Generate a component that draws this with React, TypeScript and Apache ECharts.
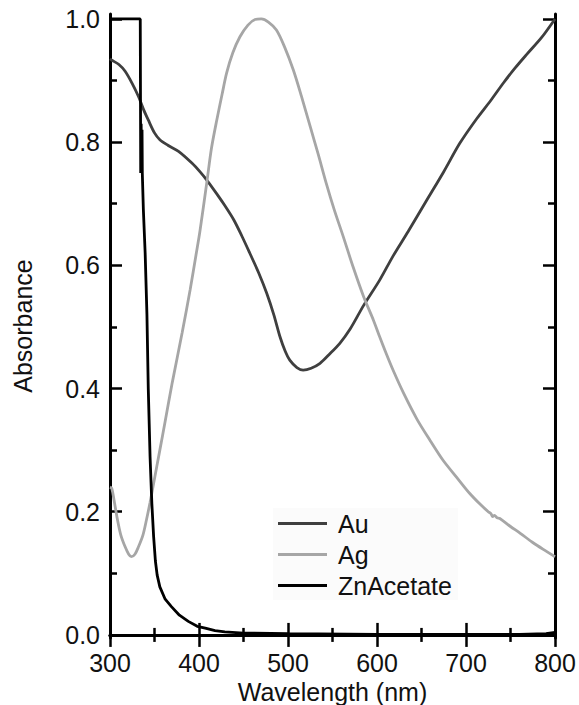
import React, { useEffect, useRef } from "react";
import * as echarts from "echarts";

const seriesNames = ["Au", "Ag", "ZnAcetate"];

const auWl = [300, 302, 310, 317, 325, 332, 338, 343, 350, 356, 365, 377, 392, 401, 410, 420, 429, 439, 448, 457, 467, 476, 484, 491, 497, 502, 510, 517, 526, 536, 546, 558, 570, 585, 603, 618, 635, 656, 675, 693, 712, 728, 742, 755, 768, 785, 800];
const auAbs = [0.935, 0.933, 0.926, 0.915, 0.895, 0.874, 0.852, 0.836, 0.815, 0.804, 0.795, 0.785, 0.766, 0.752, 0.736, 0.716, 0.697, 0.674, 0.648, 0.62, 0.588, 0.555, 0.52, 0.484, 0.46, 0.446, 0.434, 0.43, 0.433, 0.441, 0.455, 0.473, 0.497, 0.535, 0.576, 0.615, 0.655, 0.706, 0.752, 0.798, 0.838, 0.868, 0.896, 0.92, 0.942, 0.97, 1.0];

const agWl = [300, 302, 305, 308, 312, 317, 321, 324, 328, 332, 337, 341, 345, 349, 356, 362, 370, 381, 390, 397, 401, 409, 414, 420, 426, 431, 438, 446, 455, 463, 470, 478, 487, 496, 506, 515, 525, 534, 543, 552, 562, 573, 585, 596, 603, 610, 618, 630, 645, 660, 674, 690, 704, 716, 725, 728, 730, 732, 735, 738, 750, 761, 775, 790, 800];
const agAbs = [0.24, 0.238, 0.215, 0.19, 0.163, 0.143, 0.131, 0.127, 0.131, 0.143, 0.162, 0.187, 0.215, 0.246, 0.3, 0.347, 0.41, 0.49, 0.56, 0.62, 0.655, 0.737, 0.79, 0.836, 0.878, 0.912, 0.945, 0.971, 0.99, 0.999, 1.0, 0.995, 0.982, 0.955, 0.917, 0.875, 0.825, 0.78, 0.733, 0.69, 0.647, 0.598, 0.549, 0.511, 0.484, 0.458, 0.43, 0.392, 0.35, 0.315, 0.284, 0.255, 0.23, 0.212, 0.2, 0.197, 0.192, 0.194, 0.19, 0.189, 0.176, 0.165, 0.15, 0.136, 0.127];

const znWl = [300, 334, 334.5, 335, 335.5, 336, 336.3, 337.5, 339.5, 341.5, 343, 345, 347, 349, 351, 353, 356, 362, 369, 378, 388, 398, 407, 418, 429, 450, 500, 600, 700, 760, 790, 800];
const znAbs = [1.0, 1.0, 0.75, 0.83, 0.76, 0.82, 0.75, 0.69, 0.62, 0.52, 0.4, 0.29, 0.214, 0.16, 0.12, 0.097, 0.078, 0.058, 0.046, 0.032, 0.022, 0.014, 0.011, 0.007, 0.005, 0.003, 0.002, 0.001, 0.001, 0.001, 0.002, 0.004];

const yMajorTicks = [0, 0.2, 0.4, 0.6, 0.8, 1.0];
const yMinorTicks = [0.1, 0.3, 0.5, 0.7, 0.9];

const FONT = "'Liberation Sans', Arial, sans-serif";
const INK = "#111";

const zip = (xs: number[], ys: number[]) => xs.map((x, i) => [x, ys[i]]);

export default function App() {
  const ref = useRef<HTMLDivElement>(null);
  useEffect(() => {
    if (!ref.current) return;
    const chart = echarts.init(ref.current, null, { renderer: "svg" });
    const lineW = 2.8;
    const tickStyle = { color: "#000", width: 2.5 };
    const yRange = { min: -0.005, max: 1.008 };
    const baseX = {
      type: "value",
      min: 300,
      max: 800,
      interval: 100,
      splitLine: { show: false },
      minorSplitLine: { show: false },
      axisLine: { show: true, lineStyle: { color: "#000", width: 3 } },
      axisTick: { show: true, inside: true, length: 12, lineStyle: tickStyle },
      minorTick: { show: true, splitNumber: 2, length: 7, lineStyle: tickStyle },
    };
    const yAxisBase = (position: string, major: boolean, showLine: boolean, labels: boolean) => ({
      type: "value",
      position,
      ...yRange,
      splitLine: { show: false },
      axisLine: { show: showLine, onZero: false, lineStyle: { color: "#000", width: 3 } },
      axisTick: {
        show: true,
        inside: true,
        length: major ? 12 : 7,
        lineStyle: tickStyle,
        customValues: major ? yMajorTicks : yMinorTicks,
      },
      axisLabel: labels
        ? {
            show: true,
            customValues: yMajorTicks,
            formatter: (v: number) => v.toFixed(1),
            fontSize: 25,
            fontFamily: FONT,
            color: INK,
            margin: 10,
          }
        : { show: false },
    });
    chart.setOption({
      animation: false,
      backgroundColor: "#fff",
      grid: { left: 110, right: 24, top: 14, bottom: 67, containLabel: false, outerBoundsMode: "none" },
      legend: {
        data: seriesNames,
        orient: "vertical",
        left: 273,
        top: 508,
        padding: [3, 6, 2, 5],
        itemGap: 6,
        itemWidth: 49,
        itemHeight: 3,
        icon: "rect",
        backgroundColor: "#fbfbfb",
        textStyle: { fontSize: 25, lineHeight: 25, color: INK, fontFamily: FONT, padding: [0, 0, 0, 6] },
      },
      xAxis: [
        {
          ...baseX,
          position: "bottom",
          axisLabel: { fontSize: 25, fontFamily: FONT, color: INK, margin: 12 },
          name: "Wavelength (nm)",
          nameLocation: "middle",
          nameGap: 37,
          nameTextStyle: { fontSize: 25, fontFamily: FONT, color: INK },
        },
        { ...baseX, position: "top", axisLabel: { show: false } },
      ],
      yAxis: [
        {
          ...yAxisBase("left", true, true, true),
          name: "Absorbance",
          nameLocation: "middle",
          nameGap: 75,
          nameRotate: 90,
          nameTextStyle: { fontSize: 25, fontFamily: FONT, color: INK },
        },
        yAxisBase("left", false, false, false),
        yAxisBase("right", true, true, false),
        yAxisBase("right", false, false, false),
      ],
      series: [
        {
          name: "Au",
          type: "line",
          data: zip(auWl, auAbs),
          showSymbol: false,
          symbol: "none",
          smooth: 0.3,
          color: "#3f3f3f",
          lineStyle: { color: "#3f3f3f", width: lineW },
        },
        {
          name: "Ag",
          type: "line",
          data: zip(agWl, agAbs),
          showSymbol: false,
          symbol: "none",
          smooth: 0.3,
          color: "#a6a6a6",
          lineStyle: { color: "#a6a6a6", width: lineW },
        },
        {
          name: "ZnAcetate",
          type: "line",
          data: zip(znWl, znAbs),
          showSymbol: false,
          symbol: "none",
          color: "#000",
          lineStyle: { color: "#000", width: lineW },
        },
      ],
    });
    return () => chart.dispose();
  }, []);
  return (
    <div
      ref={ref}
      style={{ position: "fixed", left: 0, top: 0, width: 579, height: 705, background: "#fff" }}
    />
  );
}
